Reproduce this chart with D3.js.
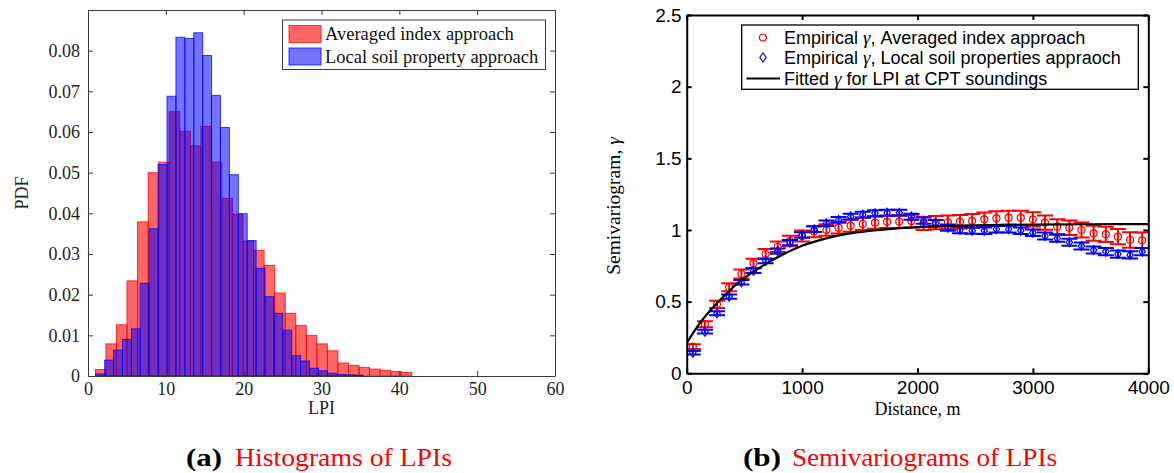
<!DOCTYPE html>
<html>
<head>
<meta charset="utf-8">
<script src="https://cdn.jsdelivr.net/npm/d3@7"></script>
<style>
  html, body { margin: 0; padding: 0; background: #fff; }
  svg { display: block; }
</style>
</head>
<body>
<svg id="fig" width="1174" height="473"></svg>
<script>
// ---------- (a) histograms of LPI ----------
const lpiTicks = [0, 10, 20, 30, 40, 50, 60];
const pdfTicks = [0, 0.01, 0.02, 0.03, 0.04, 0.05, 0.06, 0.07, 0.08];
const avgBinStart = 0.95;
const avgBinWidth = 1.355;
const avgPdf = [0.0016, 0.0079, 0.0126, 0.0234, 0.0379, 0.0500, 0.0526, 0.0650, 0.0602, 0.0566,
                0.0614, 0.0526, 0.0437, 0.0398, 0.0332, 0.0309, 0.0272, 0.0204, 0.0154, 0.0124,
                0.0100, 0.0079, 0.0062, 0.0032, 0.0026, 0.0021, 0.0017, 0.0014, 0.0011, 0.0009];
const lspBinStart = 0.99;
const lspBinWidth = 1.145;
const lspPdf = [0.0005, 0.0039, 0.0064, 0.0090, 0.0116, 0.0228, 0.0362, 0.0520, 0.0688, 0.0833,
                0.0830, 0.0844, 0.0788, 0.0690, 0.0611, 0.0495, 0.0399, 0.0333, 0.0265, 0.0195,
                0.0154, 0.0113, 0.0050, 0.0037, 0.0019, 0.0013, 0.0007, 0.0004, 0.0003, 0.0002];
const histLegend = ["Averaged index approach", "Local soil property approach"];

// ---------- (b) semivariograms ----------
const distTicks = [0, 1000, 2000, 3000, 4000];
const gammaTicks = [0, 0.5, 1, 1.5, 2, 2.5];
const lagDistance = [53, 158, 263, 368, 474, 579, 684, 789, 895, 1000,
                     1105, 1211, 1316, 1421, 1526, 1632, 1737, 1842, 1947, 2053,
                     2158, 2263, 2368, 2474, 2579, 2684, 2789, 2895, 3000, 3105,
                     3211, 3316, 3421, 3526, 3632, 3737, 3842, 3947];
const gammaAvg = [0.186, 0.342, 0.481, 0.600, 0.693, 0.767, 0.832, 0.883, 0.923, 0.958,
                  0.988, 1.000, 1.016, 1.030, 1.042, 1.051, 1.057, 1.058, 1.062, 1.045,
                  1.051, 1.054, 1.058, 1.063, 1.074, 1.081, 1.086, 1.084, 1.074, 1.051,
                  1.023, 1.016, 1.000, 0.977, 0.970, 0.953, 0.930, 0.928];
const gammaAvgErr = [0.016, 0.021, 0.025, 0.028, 0.031, 0.033, 0.035, 0.036, 0.037, 0.038,
                     0.039, 0.040, 0.041, 0.042, 0.043, 0.043, 0.044, 0.045, 0.045, 0.046,
                     0.046, 0.047, 0.047, 0.048, 0.048, 0.049, 0.049, 0.050, 0.050, 0.050,
                     0.051, 0.051, 0.052, 0.052, 0.053, 0.053, 0.054, 0.054];
const gammaLsp = [0.144, 0.290, 0.419, 0.535, 0.635, 0.716, 0.784, 0.853, 0.912, 0.965,
                  1.005, 1.047, 1.070, 1.093, 1.107, 1.116, 1.120, 1.120, 1.093, 1.065,
                  1.047, 1.016, 1.000, 0.995, 0.995, 1.005, 1.005, 0.995, 0.981, 0.958,
                  0.942, 0.914, 0.888, 0.860, 0.849, 0.832, 0.826, 0.849];
const gammaLspErr = [0.012, 0.013, 0.014, 0.015, 0.016, 0.017, 0.017, 0.018, 0.018, 0.019,
                     0.019, 0.019, 0.020, 0.020, 0.020, 0.021, 0.021, 0.021, 0.021, 0.022,
                     0.022, 0.022, 0.022, 0.022, 0.023, 0.023, 0.023, 0.023, 0.023, 0.024,
                     0.024, 0.024, 0.024, 0.024, 0.025, 0.025, 0.025, 0.025];
const fitDistance = [0, 50, 100, 200, 300, 400, 500, 600, 700, 800, 900, 1000,
                     1200, 1400, 1600, 1800, 2000, 2200, 2500, 3000, 3500, 4000];
const fitGamma = [0.210, 0.275, 0.335, 0.435, 0.520, 0.600, 0.665, 0.720, 0.770, 0.815, 0.855, 0.890,
                  0.940, 0.975, 0.995, 1.010, 1.020, 1.027, 1.033, 1.038, 1.040, 1.041];

const svg = d3.select("#fig");
const SERIF = "'Liberation Serif', 'Times New Roman', serif";
const SANS = "'Liberation Sans', Arial, Helvetica, sans-serif";

// ================= panel (a) =================
(function drawHistogram() {
  const x = d3.scaleLinear().domain([0, 60]).range([88, 555]);
  const y = d3.scaleLinear().domain([0, 0.09]).range([376, 10]);
  const g = svg.append("g");

  function bars(values, start, width, color, alpha, cls) {
    g.append("g").attr("class", cls)
      .selectAll("rect").data(values).join("rect")
      .attr("x", (d, i) => x(start + i * width))
      .attr("width", (d, i) => x(start + (i + 1) * width) - x(start + i * width))
      .attr("y", d => y(d))
      .attr("height", d => y(0) - y(d))
      .attr("fill", color).attr("fill-opacity", alpha)
      .attr("stroke", color).attr("stroke-opacity", 0.75).attr("stroke-width", 1);
  }
  bars(avgPdf, avgBinStart, avgBinWidth, "rgb(255,0,0)", 0.6, "avg");
  bars(lspPdf, lspBinStart, lspBinWidth, "rgb(0,0,255)", 0.55, "lsp");

  const axColor = "#3a3a3a";
  const styleAxis = sel => {
    sel.selectAll(".domain").attr("stroke", axColor).attr("stroke-width", 1);
    sel.selectAll(".tick line").attr("stroke", axColor).attr("stroke-width", 1);
    sel.selectAll("text").attr("font-family", SERIF).attr("font-size", 18).attr("fill", "#222");
  };
  g.append("g").attr("transform", `translate(0,${y(0)})`)
    .call(d3.axisBottom(x).tickValues(lpiTicks).tickSize(-5).tickSizeOuter(0).tickPadding(6).tickFormat(d3.format("d")))
    .call(styleAxis);
  g.append("g").attr("transform", `translate(0,${y(0.09)})`)
    .call(d3.axisTop(x).tickValues(lpiTicks).tickSize(-5).tickSizeOuter(0).tickFormat(""))
    .call(styleAxis);
  g.append("g").attr("transform", `translate(${x(0)},0)`)
    .call(d3.axisLeft(y).tickValues(pdfTicks).tickSize(-5).tickSizeOuter(0).tickPadding(8)
      .tickFormat(d => d === 0 ? "0" : d.toFixed(2)))
    .call(styleAxis);
  g.append("g").attr("transform", `translate(${x(60)},0)`)
    .call(d3.axisRight(y).tickValues(pdfTicks).tickSize(-5).tickSizeOuter(0).tickFormat(""))
    .call(styleAxis);

  g.append("text").attr("x", (x(0) + x(60)) / 2).attr("y", 414)
    .attr("text-anchor", "middle").attr("font-family", SERIF).attr("font-size", 18).attr("fill", "#222")
    .text("LPI");
  g.append("text").attr("transform", `translate(28,${(y(0) + y(0.09)) / 2}) rotate(-90)`)
    .attr("text-anchor", "middle").attr("font-family", SERIF).attr("font-size", 18).attr("fill", "#222")
    .text("PDF");

  // legend
  const lg = g.append("g");
  lg.append("rect").attr("x", 282.5).attr("y", 20).attr("width", 263).attr("height", 49.5)
    .attr("fill", "#fff").attr("stroke", axColor).attr("stroke-width", 1);
  const swatchColors = ["rgb(255,0,0)", "rgb(0,0,255)"];
  const swatchAlpha = [0.6, 0.55];
  histLegend.forEach((label, i) => {
    const cy = 34 + i * 22.5;
    lg.append("rect").attr("x", 289).attr("y", cy - 8.5).attr("width", 32).attr("height", 17)
      .attr("fill", swatchColors[i]).attr("fill-opacity", swatchAlpha[i])
      .attr("stroke", swatchColors[i]).attr("stroke-opacity", 0.75);
    lg.append("text").attr("x", 325).attr("y", cy + 6)
      .attr("font-family", SERIF).attr("font-size", 18.5).attr("fill", "#111").text(label);
  });
})();

// ================= panel (b) =================
(function drawSemivariogram() {
  const x = d3.scaleLinear().domain([0, 4000]).range([686.7, 1148.3]);
  const y = d3.scaleLinear().domain([0, 2.5]).range([373.3, 15]);
  const g = svg.append("g");

  svg.append("defs").append("clipPath").attr("id", "plotClip")
    .append("rect").attr("x", x(0)).attr("y", y(2.5)).attr("width", x(4000) - x(0)).attr("height", y(0) - y(2.5));
  const plot = g.append("g").attr("clip-path", "url(#plotClip)");

  const capHalf = 8;
  function errorSeries(vals, errs, color, marker) {
    const s = plot.append("g");
    const pts = lagDistance.map((d, i) => ({ d, v: vals[i], e: errs[i] }));
    const eb = s.selectAll("g.eb").data(pts).join("g").attr("class", "eb")
      .attr("stroke", color).attr("stroke-width", 2).attr("fill", "none");
    eb.append("line").attr("x1", p => x(p.d)).attr("x2", p => x(p.d))
      .attr("y1", p => y(p.v - p.e)).attr("y2", p => y(p.v + p.e));
    eb.append("line").attr("x1", p => x(p.d) - capHalf).attr("x2", p => x(p.d) + capHalf)
      .attr("y1", p => y(p.v + p.e)).attr("y2", p => y(p.v + p.e));
    eb.append("line").attr("x1", p => x(p.d) - capHalf).attr("x2", p => x(p.d) + capHalf)
      .attr("y1", p => y(p.v - p.e)).attr("y2", p => y(p.v - p.e));
    s.selectAll("path.mk").data(pts).join("path").attr("class", "mk")
      .attr("d", p => marker(x(p.d), y(p.v)))
      .attr("fill", "none").attr("stroke", color).attr("stroke-width", 1.2);
  }
  const circle = (cx, cy) => `M${cx - 3.5},${cy}a3.5,3.5 0 1,0 7,0a3.5,3.5 0 1,0 -7,0`;
  const diamond = (cx, cy) => `M${cx},${cy - 4.5}L${cx + 3.2},${cy}L${cx},${cy + 4.5}L${cx - 3.2},${cy}Z`;

  errorSeries(gammaAvg, gammaAvgErr, "#ff0000", circle);
  errorSeries(gammaLsp, gammaLspErr, "#0000ff", diamond);

  const fit = d3.line().x((d, i) => x(fitDistance[i])).y(d => y(d)).curve(d3.curveMonotoneX);
  plot.append("path").attr("d", fit(fitGamma)).attr("fill", "none")
    .attr("stroke", "#000").attr("stroke-width", 2.2);

  const styleAxis = sel => {
    sel.selectAll(".domain").attr("stroke", "#000").attr("stroke-width", 2);
    sel.selectAll(".tick line").attr("stroke", "#000").attr("stroke-width", 2);
    sel.selectAll("text").attr("font-family", SANS).attr("font-size", 19).attr("fill", "#000");
  };
  g.append("g").attr("transform", `translate(0,${y(0)})`)
    .call(d3.axisBottom(x).tickValues(distTicks).tickSize(-5).tickSizeOuter(0).tickPadding(7).tickFormat(d3.format("d")))
    .call(styleAxis);
  g.append("g").attr("transform", `translate(0,${y(2.5)})`)
    .call(d3.axisTop(x).tickValues(distTicks).tickSize(-5).tickSizeOuter(0).tickFormat(""))
    .call(styleAxis);
  g.append("g").attr("transform", `translate(${x(0)},0)`)
    .call(d3.axisLeft(y).tickValues(gammaTicks).tickSize(-5).tickSizeOuter(0).tickPadding(5).tickFormat(d => String(d)))
    .call(styleAxis);
  g.append("g").attr("transform", `translate(${x(4000)},0)`)
    .call(d3.axisRight(y).tickValues(gammaTicks).tickSize(-5).tickSizeOuter(0).tickFormat(""))
    .call(styleAxis);

  g.append("text").attr("x", (x(0) + x(4000)) / 2).attr("y", 415)
    .attr("text-anchor", "middle").attr("font-family", SERIF).attr("font-size", 18).attr("fill", "#000")
    .text("Distance, m");
  const yl = g.append("text").attr("transform", "translate(620,206) rotate(-90)")
    .attr("text-anchor", "middle").attr("font-family", SERIF).attr("font-size", 19.5).attr("fill", "#000");
  yl.append("tspan").text("Semivariogram, ");
  yl.append("tspan").attr("font-style", "italic").text("γ");

  // legend
  const lg = g.append("g");
  lg.append("rect").attr("x", 741.7).attr("y", 25).attr("width", 396.6).attr("height", 64.3)
    .attr("fill", "#fff").attr("stroke", "#000").attr("stroke-width", 1.3);
  const rows = [
    { a: "Empirical ", b: ", Averaged index approach" },
    { a: "Empirical ", b: ", Local soil properties appraoch" },
    { a: "Fitted ", b: " for LPI at CPT soundings" }
  ];
  const rowY = [37.5, 57.5, 78.5];
  lg.append("path").attr("d", circle(763, rowY[0])).attr("fill", "none").attr("stroke", "#ff0000").attr("stroke-width", 1.2);
  lg.append("path").attr("d", diamond(763, rowY[1])).attr("fill", "none").attr("stroke", "#0000ff").attr("stroke-width", 1.2);
  lg.append("line").attr("x1", 746.5).attr("x2", 780).attr("y1", rowY[2]).attr("y2", rowY[2])
    .attr("stroke", "#000").attr("stroke-width", 2.2);
  rows.forEach((r, i) => {
    const t = lg.append("text").attr("x", 784).attr("y", rowY[i] + 6.5)
      .attr("font-family", SANS).attr("font-size", 18).attr("fill", "#000");
    t.append("tspan").text(r.a);
    t.append("tspan").attr("font-family", SERIF).attr("font-style", "italic").attr("font-size", 19).text("γ");
    t.append("tspan").text(r.b);
  });
})();

// ================= captions =================
function caption(tag, tagX, tagLen, body, bodyX, bodyLen) {
  svg.append("text").attr("x", tagX).attr("y", 466)
    .attr("font-family", SERIF).attr("font-weight", "bold").attr("font-size", 24.5).attr("fill", "#000")
    .attr("textLength", tagLen).attr("lengthAdjust", "spacingAndGlyphs").text(tag);
  svg.append("text").attr("x", bodyX).attr("y", 466)
    .attr("font-family", SERIF).attr("font-size", 24.5).attr("fill", "#ff0000")
    .attr("textLength", bodyLen).attr("lengthAdjust", "spacingAndGlyphs").text(body);
}
caption("(a)", 186, 36, "Histograms of LPIs", 235, 217);
caption("(b)", 743, 38, "Semivariograms of LPIs", 792, 265);
</script>
</body>
</html>
